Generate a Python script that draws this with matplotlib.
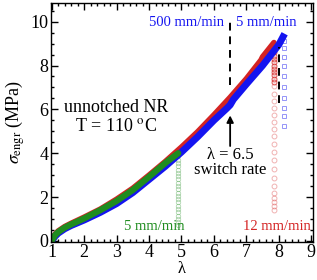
import matplotlib
matplotlib.use('Agg')
import matplotlib.pyplot as plt
from matplotlib.ticker import MultipleLocator

plt.rcParams['font.family'] = ['Liberation Serif', 'DejaVu Serif']
plt.rcParams['mathtext.fontset'] = 'stix'

# curves
lam_blue = [1.0, 1.05, 1.1, 1.2, 1.4, 1.6, 2.0, 2.5, 3.0, 3.5, 4.0, 4.5, 5.0, 5.5, 6.0, 6.4, 6.5, 6.6, 7.0, 7.5, 8.0, 8.18]
sig_blue = [0.0, 0.1, 0.2, 0.35, 0.55, 0.7, 0.95, 1.3, 1.7, 2.2, 2.8, 3.4, 4.05, 4.75, 5.5, 6.05, 6.2, 6.45, 7.15, 8.0, 8.95, 9.45]

lam_red = [1.0, 1.05, 1.1, 1.2, 1.4, 1.6, 2.0, 2.5, 3.0, 3.5, 4.0, 4.5, 5.0, 5.5, 6.0, 6.5, 7.0, 7.45, 7.5, 7.85]
sig_red = [0.0, 0.15, 0.3, 0.45, 0.65, 0.8, 1.08, 1.45, 1.9, 2.4, 3.0, 3.62, 4.28, 4.98, 5.75, 6.55, 7.4, 8.25, 8.4, 9.05]

lam_green = [1.0, 1.05, 1.1, 1.2, 1.4, 1.6, 2.0, 2.5, 3.0, 3.5, 4.0, 4.5, 4.9]
sig_green = [0.0, 0.12, 0.25, 0.4, 0.6, 0.75, 1.02, 1.4, 1.82, 2.32, 2.92, 3.55, 4.0]

# failure points after break
x_green_brk = 4.9
y_green_brk = [3.85, 3.7, 3.55, 3.4, 3.25, 3.1, 2.95, 2.8, 2.65, 2.5, 2.35, 2.2, 2.05, 1.9,
               1.75, 1.6, 1.45, 1.3, 1.15, 1.0, 0.85, 0.7]
x_red_brk = 7.84
y_red_dense = [8.9, 8.75, 8.6, 8.45, 8.3, 8.15, 8.0, 7.85, 7.7, 7.55, 7.4, 7.25]
y_red_brk = [7.06, 6.7, 6.38, 6.06, 5.75, 5.43, 5.11, 4.8, 4.43, 4.07, 3.67, 3.26, 2.85,
             2.49, 2.17, 1.95, 1.76, 1.58, 1.4]
x_blue_brk = 8.15
y_blue_brk = [9.1, 8.8, 8.4, 8.0, 7.5, 7.0, 6.5, 6.05, 5.7, 5.25]

blue = '#1414f0'
red = '#d42323'
green = '#1f8c1f'

fig = plt.figure(figsize=(3.17, 2.8), dpi=100)
ax = fig.add_axes([0.161, 0.136, 0.826, 0.853])

ax.plot([x_green_brk] * len(y_green_brk), y_green_brk, 'o', ms=3.2, mfc='none', mec=green, mew=0.6, alpha=0.35)
ax.plot([x_red_brk] * len(y_red_dense), y_red_dense, 'o', ms=3.5, mfc='none', mec=red, mew=0.8, alpha=0.7)
ax.plot([x_red_brk] * len(y_red_brk), y_red_brk, 'o', ms=3.5, mfc='none', mec=red, mew=0.7, alpha=0.35)
ax.plot([x_blue_brk] * len(y_blue_brk), y_blue_brk, 's', ms=3.5, mfc='none', mec=blue, mew=0.7, alpha=0.45)

ax.plot(lam_red, sig_red, '-', color=red, lw=4.0, solid_capstyle='round')
ax.plot(lam_blue, sig_blue, '-', color=blue, lw=5.0, solid_capstyle='butt')
ax.plot(lam_green, sig_green, '-', color=green, lw=4.5, solid_capstyle='round')

# switch-rate dashed lines
ax.plot([6.5, 6.5], [7.1, 10.1], '--', color='black', lw=1.4, dashes=(4, 3))
ax.plot([8.0, 8.0], [6.3, 8.85], '--', color='black', lw=1.4, dashes=(4, 3))

ax.annotate('', xy=(6.5, 5.85), xytext=(6.5, 4.2),
            arrowprops=dict(arrowstyle='-|>', color='black', lw=1.3, mutation_scale=10))
ax.text(6.5, 4.3, 'λ = 6.5\nswitch rate', ha='center', va='top', fontsize=12, linespacing=0.95)

ax.text(6.3, 9.95, '500 mm/min', color=blue, ha='right', va='center', fontsize=10.5)
ax.text(6.67, 9.95, '5 mm/min', color=blue, ha='left', va='center', fontsize=10.5)
ax.text(2.98, 6.1, 'unnotched NR', ha='center', va='center', fontsize=13)
ax.text(2.98, 5.2, r'T = 110 $^{\rm o}$C', ha='center', va='center', fontsize=13)
ax.text(4.15, 0.65, '5 mm/min', color=green, ha='center', va='center', fontsize=10.5)
ax.text(8.97, 0.65, '12 mm/min', color=red, ha='right', va='center', fontsize=10.5)

ax.set_xlim(0.98, 9.05)
ax.set_ylim(-0.05, 10.85)
ax.xaxis.set_major_locator(MultipleLocator(1))
ax.xaxis.set_minor_locator(MultipleLocator(0.2))
ax.yaxis.set_major_locator(MultipleLocator(2))
ax.yaxis.set_minor_locator(MultipleLocator(0.5))
ax.tick_params(which='both', direction='in', top=True, right=True, labelsize=13, width=1.0)
ax.tick_params(which='major', length=5)
ax.tick_params(axis='x', which='major', pad=1.5)
ax.tick_params(axis='y', which='major', pad=2)
ax.tick_params(which='minor', length=2.5)
for s in ax.spines.values():
    s.set_linewidth(1.0)

ax.set_xlabel('λ', fontsize=12, labelpad=0)
ax.set_ylabel(r'$\sigma_{\rm engr}$ (MPa)', fontsize=13, labelpad=2)

fig.savefig('out.png', dpi=100)
